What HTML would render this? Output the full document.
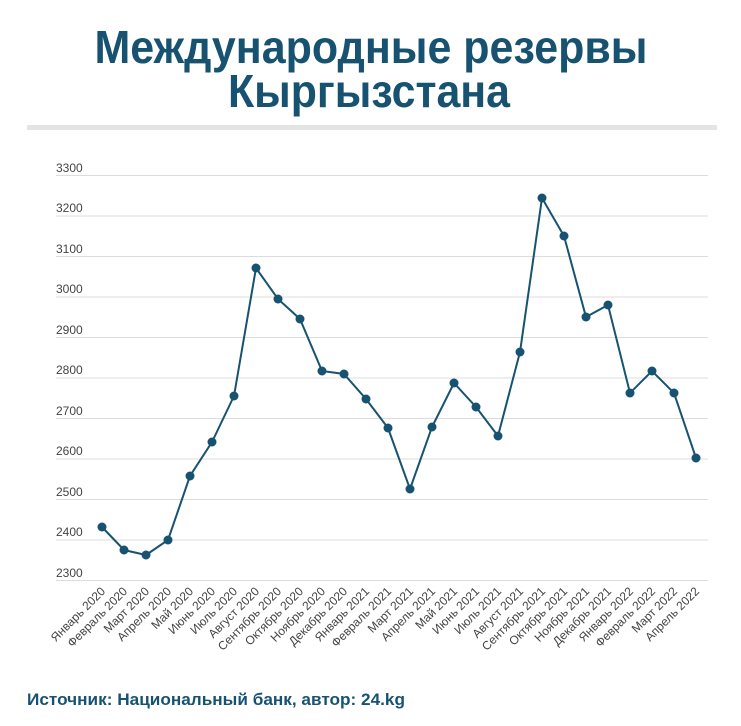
<!DOCTYPE html>
<html><head><meta charset="utf-8"><style>
html,body{margin:0;padding:0;background:#fff;}
svg{display:block;}
</style></head><body>
<svg width="741" height="726" xmlns="http://www.w3.org/2000/svg" font-family="Liberation Sans, sans-serif">
<rect width="741" height="726" fill="#fff"/>
<text x="371" y="63" text-anchor="middle" font-size="46" font-weight="bold" fill="#175371" textLength="553" lengthAdjust="spacingAndGlyphs">Международные резервы</text>
<text x="369" y="107" text-anchor="middle" font-size="46" font-weight="bold" fill="#175371" textLength="282" lengthAdjust="spacingAndGlyphs">Кыргызстана</text>
<rect x="27" y="125" width="690" height="5" fill="#e4e4e4"/>
<g stroke="#dcdcdc" stroke-width="1">
<line x1="56" x2="708" y1="175.5" y2="175.5"/>
<line x1="56" x2="708" y1="216" y2="216"/>
<line x1="56" x2="708" y1="256.5" y2="256.5"/>
<line x1="56" x2="708" y1="297" y2="297"/>
<line x1="56" x2="708" y1="337.5" y2="337.5"/>
<line x1="56" x2="708" y1="378" y2="378"/>
<line x1="56" x2="708" y1="418.5" y2="418.5"/>
<line x1="56" x2="708" y1="459" y2="459"/>
<line x1="56" x2="708" y1="499.5" y2="499.5"/>
<line x1="56" x2="708" y1="540" y2="540"/>
<line x1="56" x2="708" y1="580.5" y2="580.5"/>
</g>
<g font-size="12" fill="#444">
<text x="56" y="172">3300</text><text x="56" y="212">3200</text><text x="56" y="253">3100</text>
<text x="56" y="293">3000</text><text x="56" y="334">2900</text><text x="56" y="374">2800</text>
<text x="56" y="415">2700</text><text x="56" y="455">2600</text><text x="56" y="496">2500</text>
<text x="56" y="536">2400</text><text x="56" y="577">2300</text>
</g>
<polyline fill="none" stroke="#175371" stroke-width="2" points="102,527 124,550 146,555 168,540 190,476 212,442 234,396 256,268 278,299 300,319 322,371 344,374 366,399 388,428 410,489 432,427 454,383 476,407 498,436 520,352 542,198 564,236 586,317 608,305 630,393 652,371 674,393 696,458"/>
<g fill="#175371">
<circle cx="102" cy="527" r="4.5"/><circle cx="124" cy="550" r="4.5"/><circle cx="146" cy="555" r="4.5"/><circle cx="168" cy="540" r="4.5"/><circle cx="190" cy="476" r="4.5"/><circle cx="212" cy="442" r="4.5"/><circle cx="234" cy="396" r="4.5"/><circle cx="256" cy="268" r="4.5"/><circle cx="278" cy="299" r="4.5"/><circle cx="300" cy="319" r="4.5"/><circle cx="322" cy="371" r="4.5"/><circle cx="344" cy="374" r="4.5"/><circle cx="366" cy="399" r="4.5"/><circle cx="388" cy="428" r="4.5"/><circle cx="410" cy="489" r="4.5"/><circle cx="432" cy="427" r="4.5"/><circle cx="454" cy="383" r="4.5"/><circle cx="476" cy="407" r="4.5"/><circle cx="498" cy="436" r="4.5"/><circle cx="520" cy="352" r="4.5"/><circle cx="542" cy="198" r="4.5"/><circle cx="564" cy="236" r="4.5"/><circle cx="586" cy="317" r="4.5"/><circle cx="608" cy="305" r="4.5"/><circle cx="630" cy="393" r="4.5"/><circle cx="652" cy="371" r="4.5"/><circle cx="674" cy="393" r="4.5"/><circle cx="696" cy="458" r="4.5"/>
</g>
<g font-size="12" fill="#444" text-anchor="end">
<text transform="translate(106,592) rotate(-45)">Январь 2020</text>
<text transform="translate(128,592) rotate(-45)">Февраль 2020</text>
<text transform="translate(150,592) rotate(-45)">Март 2020</text>
<text transform="translate(172,592) rotate(-45)">Апрель 2020</text>
<text transform="translate(194,592) rotate(-45)">Май 2020</text>
<text transform="translate(216,592) rotate(-45)">Июнь 2020</text>
<text transform="translate(238,592) rotate(-45)">Июль 2020</text>
<text transform="translate(260,592) rotate(-45)">Август 2020</text>
<text transform="translate(282,592) rotate(-45)">Сентябрь 2020</text>
<text transform="translate(304,592) rotate(-45)">Октябрь 2020</text>
<text transform="translate(326,592) rotate(-45)">Ноябрь 2020</text>
<text transform="translate(348,592) rotate(-45)">Декабрь 2020</text>
<text transform="translate(370,592) rotate(-45)">Январь 2021</text>
<text transform="translate(392,592) rotate(-45)">Февраль 2021</text>
<text transform="translate(414,592) rotate(-45)">Март 2021</text>
<text transform="translate(436,592) rotate(-45)">Апрель 2021</text>
<text transform="translate(458,592) rotate(-45)">Май 2021</text>
<text transform="translate(480,592) rotate(-45)">Июнь 2021</text>
<text transform="translate(502,592) rotate(-45)">Июль 2021</text>
<text transform="translate(524,592) rotate(-45)">Август 2021</text>
<text transform="translate(546,592) rotate(-45)">Сентябрь 2021</text>
<text transform="translate(568,592) rotate(-45)">Октябрь 2021</text>
<text transform="translate(590,592) rotate(-45)">Ноябрь 2021</text>
<text transform="translate(612,592) rotate(-45)">Декабрь 2021</text>
<text transform="translate(634,592) rotate(-45)">Январь 2022</text>
<text transform="translate(656,592) rotate(-45)">Февраль 2022</text>
<text transform="translate(678,592) rotate(-45)">Март 2022</text>
<text transform="translate(700,592) rotate(-45)">Апрель 2022</text>
</g>
<text x="27" y="705" font-size="17" font-weight="bold" fill="#175371" textLength="378" lengthAdjust="spacingAndGlyphs">Источник: Национальный банк, автор: 24.kg</text>
</svg>
</body></html>
